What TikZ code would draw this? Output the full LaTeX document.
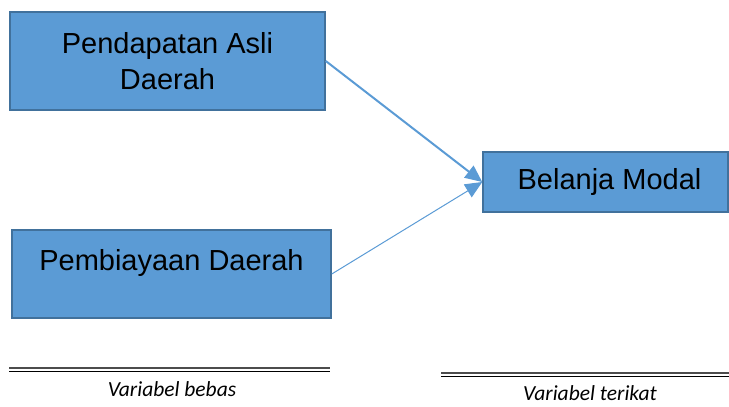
\documentclass[tikz,border=0pt]{standalone}
\usepackage{fontspec}
\setmainfont{Liberation Sans}
\newfontfamily\labelfont{Carlito}
\usetikzlibrary{arrows.meta}
\definecolor{boxfill}{HTML}{5B9BD5}
\definecolor{boxline}{HTML}{41719C}

\begin{document}
\begin{tikzpicture}
 [x=1pt, y=-1pt,
  var node/.style={rectangle, fill=boxfill, draw=boxline, line width=1.5pt, inner sep=0pt, font=\fontsize{29}{36}\selectfont},
  link/.style={draw=boxfill, -{Triangle[length=17pt,width=15pt]}},
  rule top/.style={draw=black!70, line width=2.2pt},
  rule bottom/.style={draw=black, line width=1.2pt},
  caption/.style={font=\labelfont\itshape\fontsize{21.5}{26}\selectfont, inner sep=1pt}]

\useasboundingbox (0,0) rectangle (729,407);

\node[var node, minimum width=315pt, minimum height=98pt, align=center] (pad) at (167.5,61) {Pendapatan Asli\\Daerah};
\node[var node, minimum width=319pt, text height=40pt, text depth=48pt] (biaya) at (171.5,274) {Pembiayaan Daerah};
\node[var node, minimum width=245pt, minimum height=60pt] (modal) at (605.5,182) {\hspace{8pt}Belanja Modal};

\path
  (pad.east) edge [link, line width=2pt] (modal.west)
  (biaya.east) edge [link, line width=1pt] (modal.west);

% garis bawah
\draw[rule top] (9,368) -- (330,368);
\draw[rule bottom] (9,371.5) -- (330,371.5);
\draw[rule top] (441,373) -- (729,373);
\draw[rule bottom] (441,376.5) -- (729,376.5);

\node[caption] (bebas) at (172,389) {Variabel bebas};
\node[caption] (terikat) at (590,393) {Variabel terikat};

\end{tikzpicture}
\end{document}
